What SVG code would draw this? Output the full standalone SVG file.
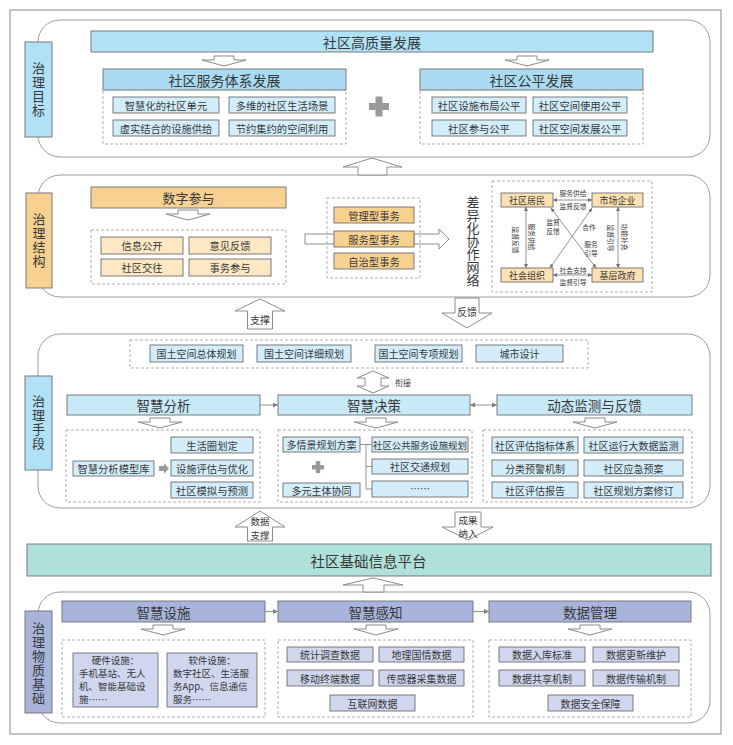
<svg xmlns="http://www.w3.org/2000/svg" xmlns:xlink="http://www.w3.org/1999/xlink" width="733" height="745" viewBox="0 0 733 745">
<style>
.t{font-family:"Noto Sans CJK SC","Noto Sans",sans-serif;fill:#383838;text-anchor:middle;dominant-baseline:central}
.tl{font-family:"Noto Sans CJK SC","Noto Sans",sans-serif;fill:#383838;text-anchor:start;dominant-baseline:central}
.v{font-family:"Noto Sans CJK SC","Noto Sans",sans-serif;fill:#383838;text-anchor:middle;writing-mode:vertical-rl}
.sec{fill:#fff;stroke:#9c9c9c;stroke-width:1}
.dash{fill:none;stroke:#9c9c9c;stroke-width:0.8;stroke-dasharray:3 2}
.ha{fill:#fff;stroke:#8c8c8c;stroke-width:1}
.bar{stroke:#7a7a7a;stroke-width:1}
.it{stroke:#6e6e6e;stroke-width:0.9}
.b1{fill:#b1e1f6}.b2{fill:#a9dcf2}.b3{fill:#d3eefa}.b4{fill:#c8e9f8}
.o1{fill:#f8d191}.o2{fill:#fde8c3}.o3{fill:#fde1b2}
.p1{fill:#a8b4dc}.p2{fill:#cfd6ee}
.ln{fill:none;stroke:#888;stroke-width:0.9}
.nl{fill:none;stroke:#7a7a7a;stroke-width:0.8}
.plus{fill:#9a9a9a}
.st{text-anchor:start}
</style>
<defs>
<path id="da" d="M-10,0 H10 V4 H22 L0,10 L-22,4 H-10 Z"/>
<marker id="ah" viewBox="0 0 6 6" refX="6" refY="3" markerWidth="5" markerHeight="5" markerUnits="userSpaceOnUse" orient="auto-start-reverse"><path d="M0,0 L6,3 L0,6 Z" fill="#808080"/></marker>
<marker id="ah2" viewBox="0 0 6 6" refX="6" refY="3" markerWidth="4" markerHeight="4" markerUnits="userSpaceOnUse" orient="auto-start-reverse"><path d="M0,0 L6,3 L0,6 Z" fill="#707070"/></marker>
</defs>
<rect x="0" y="0" width="733" height="745" fill="#fff"/>
<rect x="10" y="10" width="711" height="724" fill="#fff" stroke="#8a8a8a" stroke-width="1"/>

<!-- section frames -->
<rect class="sec" x="38" y="20" width="672" height="137" rx="22"/>
<rect class="sec" x="38" y="175" width="672" height="122" rx="22"/>
<rect class="sec" x="38" y="334" width="672" height="174" rx="22"/>
<rect class="sec" x="38" y="592" width="672" height="131" rx="22"/>

<!-- connectors -->
<g id="connectors">
<use href="#da" class="ha" x="224" y="56"/>
<use href="#da" class="ha" x="527" y="56"/>
<path class="ha" d="M372,158 L402,167 H387 V175 H358 V167 H343 Z"/>
<use href="#da" class="ha" x="188" y="210"/>
<path class="ha" d="M334,234 H305 V244 H334"/>
<path class="ha" d="M414,234 H439 V229 L449,239 L439,249 V244 H414 Z"/>
<path class="ha" d="M260,299 L285,311 H272.5 V329 H247.5 V311 H235 Z"/>
<path class="ha" d="M455,298 H479 V313 H492 L467,328 L442,313 H455 Z"/>
<path class="ha" d="M373,371 L389,378 H381 V386 H389 L373,393 L357,386 H365 V378 H357 Z"/>
<line class="ln" x1="260" y1="405" x2="278" y2="405" marker-end="url(#ah)"/>
<line class="ln" x1="470" y1="405" x2="497" y2="405" marker-start="url(#ah)" marker-end="url(#ah)"/>
<use href="#da" class="ha" x="160" y="418"/>
<use href="#da" class="ha" x="376" y="418"/>
<use href="#da" class="ha" x="595" y="418"/>
<path class="ln" d="M360,444.5 H366 M366,444.5 V489 M366,444.5 H372 M366,466.5 H372 M366,489 H372"/>
<path d="M159,466 H164 V463 L169,468.5 L164,474 V471 H159 Z" fill="#9a9a9a"/>
<path class="ha" d="M260,511 L285,527 H272.5 V541 H247.5 V527 H235 Z"/>
<path class="ha" d="M455,512 H481 V527 H493 L468,540 L442,527 H455 Z"/>
<path class="ha" d="M373,578 L403,585 H384 V592 H363 V585 H343 Z"/>
<line class="ln" x1="265" y1="611.5" x2="278" y2="611.5" marker-end="url(#ah)"/>
<line class="ln" x1="473" y1="611.5" x2="489" y2="611.5" marker-end="url(#ah)"/>
<use href="#da" class="ha" x="163" y="625"/>
<use href="#da" class="ha" x="376" y="625"/>
<use href="#da" class="ha" x="590" y="625"/>
<!-- network lines -->
<line class="nl" x1="553" y1="200" x2="592" y2="200" marker-start="url(#ah2)" marker-end="url(#ah2)"/>
<line class="nl" x1="553" y1="275" x2="592" y2="275" marker-start="url(#ah2)" marker-end="url(#ah2)"/>
<line class="nl" x1="526" y1="207" x2="526" y2="268" marker-start="url(#ah2)" marker-end="url(#ah2)"/>
<line class="nl" x1="618" y1="207" x2="618" y2="268" marker-start="url(#ah2)" marker-end="url(#ah2)"/>
<line class="nl" x1="551" y1="208" x2="596" y2="268" marker-start="url(#ah2)" marker-end="url(#ah2)"/>
<line class="nl" x1="592" y1="208" x2="550" y2="268" marker-start="url(#ah2)" marker-end="url(#ah2)"/>
</g>
<g id="connector-labels">
<text class="t" x="260" y="319" font-size="10">支撑</text>
<text class="t" x="467" y="311" font-size="10">反馈</text>
<text class="tl" x="395" y="382" font-size="8">衔接</text>
<text class="t" font-size="9.5"><tspan x="260" y="521">数据</tspan><tspan x="260" y="535">支撑</tspan></text>
<text class="t" font-size="9.5"><tspan x="468" y="520">成果</tspan><tspan x="468" y="533">纳入</tspan></text>
<g font-size="6.8">
<text class="t"><tspan x="573" y="193">服务供给</tspan><tspan x="573" y="206">监督反馈</tspan></text>
<text class="t"><tspan x="573" y="270">社会支持</tspan><tspan x="573" y="282">监督引导</tspan></text>
<text class="t" transform="translate(516,240) rotate(90)">监督反馈</text>
<text class="t" transform="translate(532,237) rotate(90)">服务供给</text>
<text class="t" transform="translate(611,238) rotate(90)">监督引导</text>
<text class="t" transform="translate(625,237) rotate(90)">功能补充</text>
<text class="t"><tspan x="553" y="222">监督</tspan><tspan x="553" y="231">反馈</tspan></text>
<text class="t" x="589" y="227">合作</text>
<text class="t"><tspan x="591" y="244">服务</tspan><tspan x="591" y="253">引导</tspan></text>
</g>
</g>

<!-- Section labels -->
<g id="lbl-mubiao">
<rect class="bar b1" x="25" y="42" width="27" height="95"/>
<text class="v" x="38.5" y="89.5" font-size="13" letter-spacing="1">治理目标</text>
</g>
<g id="lbl-jiegou">
<rect class="bar o1" x="26" y="193" width="26" height="95"/>
<text class="v" x="39" y="240.5" font-size="13" letter-spacing="1">治理结构</text>
</g>
<g id="lbl-shouduan">
<rect class="bar b1" x="25" y="376" width="27" height="94"/>
<text class="v" x="38.5" y="423" font-size="13" letter-spacing="1">治理手段</text>
</g>
<g id="lbl-jichu">
<rect class="bar p1" x="25" y="611" width="27" height="102"/>
<text class="v" x="38.5" y="664" font-size="13" letter-spacing="1">治理物质基础</text>
</g>

<!-- Section 1 -->
<g id="n-gaozhiliang">
<rect class="bar b1" x="91" y="31" width="562" height="21"/>
<text class="t" x="372" y="41.5" font-size="14">社区高质量发展</text>
</g>
<g id="n-fuwutixi">
<rect class="bar b2" x="103" y="69" width="243" height="21"/>
<text class="t" x="224.5" y="79.5" font-size="14">社区服务体系发展</text>
<rect class="dash" x="103" y="90" width="243" height="54"/>
<rect class="it b3" x="113" y="97" width="106" height="16"/><text class="t" x="166" y="105" font-size="10.3">智慧化的社区单元</text>
<rect class="it b3" x="229" y="97" width="106" height="16"/><text class="t" x="282" y="105" font-size="10.3">多维的社区生活场景</text>
<rect class="it b3" x="113" y="120" width="106" height="16"/><text class="t" x="166" y="128" font-size="10.3">虚实结合的设施供给</text>
<rect class="it b3" x="229" y="120" width="106" height="16"/><text class="t" x="282" y="128" font-size="10.3">节约集约的空间利用</text>
</g>
<g id="n-plus1">
<rect class="plus" x="369" y="103" width="20" height="7"/>
<rect class="plus" x="375.5" y="96.5" width="7" height="20"/>
</g>
<g id="n-gongping">
<rect class="bar b2" x="420" y="69" width="223" height="21"/>
<text class="t" x="531.5" y="79.5" font-size="14">社区公平发展</text>
<rect class="dash" x="420" y="90" width="223" height="54"/>
<rect class="it b3" x="432" y="97" width="94" height="16"/><text class="t" x="479" y="105" font-size="10.3">社区设施布局公平</text>
<rect class="it b3" x="533" y="97" width="94" height="16"/><text class="t" x="580" y="105" font-size="10.3">社区空间使用公平</text>
<rect class="it b3" x="432" y="120" width="94" height="16"/><text class="t" x="479" y="128" font-size="10.3">社区参与公平</text>
<rect class="it b3" x="533" y="120" width="94" height="16"/><text class="t" x="580" y="128" font-size="10.3">社区空间发展公平</text>
</g>

<!-- Section 2 -->
<g id="n-shuzicanyu">
<rect class="bar o1" x="91" y="187" width="195" height="21"/>
<text class="t" x="188.5" y="197.5" font-size="13">数字参与</text>
<rect class="dash" x="91" y="230" width="195" height="54"/>
<rect class="it o2" x="101" y="237" width="82" height="17"/><text class="t" x="142" y="245.5" font-size="10.3">信息公开</text>
<rect class="it o2" x="189" y="237" width="82" height="17"/><text class="t" x="230" y="245.5" font-size="10.3">意见反馈</text>
<rect class="it o2" x="101" y="259" width="82" height="17"/><text class="t" x="142" y="267.5" font-size="10.3">社区交往</text>
<rect class="it o2" x="189" y="259" width="82" height="17"/><text class="t" x="230" y="267.5" font-size="10.3">事务参与</text>
</g>
<g id="n-shiwu">
<rect class="dash" x="327" y="198" width="93" height="80"/>
<rect class="it o1" x="334" y="207" width="80" height="16"/><text class="t" x="374" y="215" font-size="10.3">管理型事务</text>
<rect class="it o1" x="334" y="231" width="80" height="16"/><text class="t" x="374" y="239" font-size="10.3">服务型事务</text>
<rect class="it o1" x="334" y="253" width="80" height="16"/><text class="t" x="374" y="261" font-size="10.3">自治型事务</text>
</g>
<g id="n-wangluo-title">
<text class="v" x="473" y="241" font-size="13">差异化协作网络</text>
</g>
<g id="n-wangluo">
<rect class="dash" x="492" y="181" width="160" height="111"/>
</g>
<g id="n-jumin"><rect class="it o3" x="501" y="193" width="52" height="14"/><text class="t" x="527" y="200" font-size="9">社区居民</text></g>
<g id="n-qiye"><rect class="it o3" x="592" y="193" width="51" height="14"/><text class="t" x="617.5" y="200" font-size="9">市场企业</text></g>
<g id="n-zuzhi"><rect class="it o3" x="501" y="268" width="52" height="14"/><text class="t" x="527" y="275" font-size="9">社会组织</text></g>
<g id="n-zhengfu"><rect class="it o3" x="592" y="268" width="51" height="14"/><text class="t" x="617.5" y="275" font-size="9">基层政府</text></g>

<!-- Section 3 -->
<g id="n-guihua">
<rect class="dash" x="130" y="340" width="458" height="28"/>
<rect class="it b3" x="150" y="345" width="93" height="17"/><text class="t" x="196.5" y="353.5" font-size="10">国土空间总体规划</text>
<rect class="it b3" x="257" y="345" width="94" height="17"/><text class="t" x="304" y="353.5" font-size="10">国土空间详细规划</text>
<rect class="it b3" x="375" y="345" width="87" height="17"/><text class="t" x="418.5" y="353.5" font-size="10">国土空间专项规划</text>
<rect class="it b3" x="476" y="345" width="87" height="17"/><text class="t" x="519.5" y="353.5" font-size="10">城市设计</text>
</g>
<g id="n-fenxi">
<rect class="bar b4" x="67" y="395" width="193" height="20"/>
<text class="t" x="163.5" y="405" font-size="13.5">智慧分析</text>
<rect class="dash" x="66" y="430" width="194" height="72"/>
<rect class="it b3" x="73" y="461" width="81" height="15"/><text class="t" x="113.5" y="468.5" font-size="10.3">智慧分析模型库</text>
<rect class="it b3" x="171" y="437" width="82" height="16"/><text class="t" x="212" y="445" font-size="10.3">生活圈划定</text>
<rect class="it b3" x="171" y="460" width="82" height="16"/><text class="t" x="212" y="468" font-size="10.3">设施评估与优化</text>
<rect class="it b3" x="171" y="482" width="82" height="16"/><text class="t" x="212" y="490" font-size="10.3">社区模拟与预测</text>
</g>
<g id="n-juece">
<rect class="bar b4" x="278" y="395" width="192" height="20"/>
<text class="t" x="374" y="405" font-size="13.5">智慧决策</text>
<rect class="dash" x="278" y="430" width="194" height="72"/>
<rect class="it b3" x="283" y="437" width="77" height="15"/><text class="t" x="321.5" y="444.5" font-size="10">多情景规划方案</text>
<rect class="plus" x="312" y="465" width="12" height="4.5"/>
<rect class="plus" x="315.75" y="461" width="4.5" height="12"/>
<rect class="it b3" x="283" y="483" width="77" height="14"/><text class="t" x="321.5" y="490" font-size="10">多元主体协同</text>
<rect class="it b3" x="372" y="437" width="96" height="15"/><text class="t" x="420" y="444.5" font-size="9.4">社区公共服务设施规划</text>
<rect class="it b3" x="372" y="459" width="96" height="15"/><text class="t" x="420" y="466.5" font-size="10">社区交通规划</text>
<rect class="it b3" x="372" y="481" width="96" height="16"/><text class="t" x="420" y="488" font-size="10">……</text>
</g>
<g id="n-jiance">
<rect class="bar b4" x="497" y="395" width="195" height="20"/>
<text class="t" x="594.5" y="405" font-size="13.5">动态监测与反馈</text>
<rect class="dash" x="483" y="430" width="209" height="72"/>
<rect class="it b3" x="492" y="437" width="86" height="16"/><text class="t" x="535" y="445" font-size="10">社区评估指标体系</text>
<rect class="it b3" x="584" y="437" width="99" height="16"/><text class="t" x="633.5" y="445" font-size="10">社区运行大数据监测</text>
<rect class="it b3" x="492" y="460" width="86" height="16"/><text class="t" x="535" y="468" font-size="10">分类预警机制</text>
<rect class="it b3" x="584" y="460" width="99" height="16"/><text class="t" x="633.5" y="468" font-size="10">社区应急预案</text>
<rect class="it b3" x="492" y="482" width="86" height="16"/><text class="t" x="535" y="490" font-size="10">社区评估报告</text>
<rect class="it b3" x="584" y="482" width="99" height="16"/><text class="t" x="633.5" y="490" font-size="10">社区规划方案修订</text>
</g>

<!-- Platform -->
<g id="n-pingtai">
<rect class="bar" x="27" y="544" width="684" height="32" fill="#afe0da"/>
<text class="t" x="368.5" y="560" font-size="14.5">社区基础信息平台</text>
</g>

<!-- Section 4 -->
<g id="n-sheshi">
<rect class="bar p1" x="62" y="601" width="203" height="21"/>
<text class="t" x="163.5" y="611.5" font-size="13.5">智慧设施</text>
<rect class="dash" x="62" y="640" width="203" height="77"/>
<rect class="it p2" x="73" y="653" width="85" height="54"/>
<text class="t" font-size="9.5"><tspan x="115.5" y="660">硬件设施：</tspan><tspan class="st" x="79" y="673">手机基站、无人</tspan><tspan class="st" x="79" y="686">机、智能基础设</tspan><tspan class="st" x="79" y="699">施……</tspan></text>
<rect class="it p2" x="167" y="653" width="90" height="54"/>
<text class="t" font-size="9.5"><tspan x="212" y="660">软件设施：</tspan><tspan class="st" x="173" y="673">数字社区、生活服</tspan><tspan class="st" x="173" y="686">务App、信息通信</tspan><tspan class="st" x="173" y="699">服务……</tspan></text>
</g>
<g id="n-ganzhi">
<rect class="bar p1" x="278" y="601" width="195" height="21"/>
<text class="t" x="375.5" y="611.5" font-size="13.5">智慧感知</text>
<rect class="dash" x="278" y="640" width="195" height="77"/>
<rect class="it p2" x="287" y="647" width="86" height="15"/><text class="t" x="330" y="654.5" font-size="10">统计调查数据</text>
<rect class="it p2" x="379" y="647" width="85" height="15"/><text class="t" x="421.5" y="654.5" font-size="10">地理国情数据</text>
<rect class="it p2" x="287" y="670" width="86" height="16"/><text class="t" x="330" y="678" font-size="10">移动终端数据</text>
<rect class="it p2" x="379" y="670" width="85" height="16"/><text class="t" x="421.5" y="678" font-size="10">传感器采集数据</text>
<rect class="it p2" x="330" y="695" width="85" height="16"/><text class="t" x="372.5" y="703" font-size="10">互联网数据</text>
</g>
<g id="n-guanli">
<rect class="bar p1" x="489" y="601" width="202" height="21"/>
<text class="t" x="590" y="611.5" font-size="13.5">数据管理</text>
<rect class="dash" x="489" y="640" width="202" height="77"/>
<rect class="it p2" x="499" y="647" width="86" height="15"/><text class="t" x="542" y="654.5" font-size="10">数据入库标准</text>
<rect class="it p2" x="593" y="647" width="86" height="15"/><text class="t" x="636" y="654.5" font-size="10">数据更新维护</text>
<rect class="it p2" x="499" y="670" width="86" height="16"/><text class="t" x="542" y="678" font-size="10">数据共享机制</text>
<rect class="it p2" x="593" y="670" width="86" height="16"/><text class="t" x="636" y="678" font-size="10">数据传输机制</text>
<rect class="it p2" x="548" y="695" width="85" height="16"/><text class="t" x="590.5" y="703" font-size="10">数据安全保障</text>
</g>
</svg>
